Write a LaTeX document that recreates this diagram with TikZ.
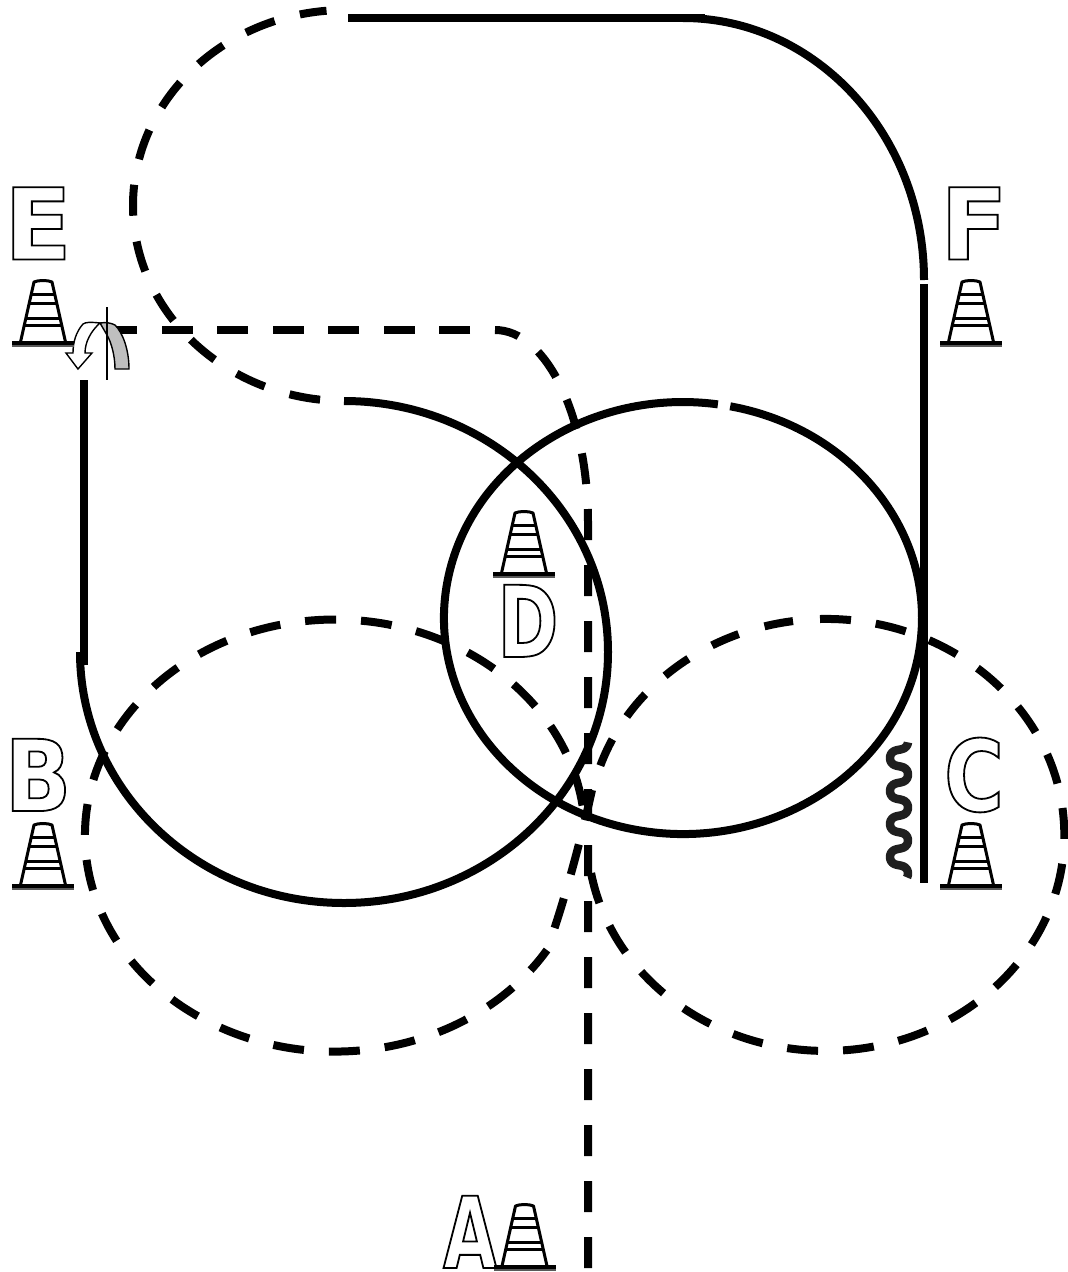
\documentclass[tikz,border=0pt]{standalone}
\usepackage{fontspec}
\newcommand{\outlined}[2]{\special{pdf:code q 1 Tr 1.8 w}{\fontspec[FakeStretch=#1]{DejaVu Sans Bold}\fontsize{99}{99}\selectfont #2}\special{pdf:code Q}}
\tikzset{
  solidline/.style={line width=8pt,black},
  dashline/.style={line width=8pt,black,dash pattern=on 31pt off 25pt},
  letter/.style={inner sep=0pt,outer sep=0pt},
  pics/traffic cone/.style={code={
    \fill[black!65] (-31,-3) rectangle (31,3);
    \fill[black] (-31,-3) rectangle (31,0.5);
    \draw[line width=3pt,line join=round] (-22.5,-2) -- (-9,-62) .. controls (-5,-64) and (5,-64) .. (9,-62) -- (22.5,-2);
    \draw[line width=3pt] (-11.7,-50) -- (11.7,-50);
    \draw[line width=3pt] (-13.8,-41) -- (13.8,-41);
    \draw[line width=3pt] (-17.1,-26) -- (17.1,-26);
    \draw[line width=3pt] (-18.7,-19) -- (18.7,-19);
  }}
}
\begin{document}
\begin{tikzpicture}[x=1pt,y=-1pt]
\useasboundingbox (0,0) rectangle (1068,1272);
% solid curves
\draw[solidline] (80,652) arc[start angle=180,end angle=-90,x radius=264,y radius=251];
\draw[solidline] (84,380) -- (84,665);
\draw[solidline] (730.2,406.3) arc[start angle=-78.6,end angle=278.4,x radius=239,y radius=216];
\draw[solidline] (348,18) -- (705,18);
\draw[solidline] (683,18) arc[start angle=-90,end angle=0,x radius=241,y radius=262];
\draw[solidline] (924,284) -- (924,883);
% dashed curves
\draw[dashline,dash pattern=on 31pt off 26pt,dash phase=32pt] (345,401) arc[start angle=90,end angle=265,x radius=212,y radius=195.5];
\draw[dashline,dash phase=5pt] (547,950) arc[start angle=32,end angle=352,x radius=250,y radius=216];
\draw[dashline] (592,790) .. controls (582,835) and (565,900) .. (547,950);
\draw[dashline] (820,619) arc[start angle=-91.4,end angle=170,x radius=238.5,y radius=216];
\draw[dashline,dash pattern=on 29pt off 27pt] (793,621.1) arc[start angle=262,end angle=197,x radius=238.5,y radius=216];
\draw[dashline] (588,1268) -- (588,522) arc[start angle=0,end angle=-90,x radius=93,y radius=192];
\draw[dashline,dash pattern=on 31pt off 24.5pt] (470,330) -- (108,330);
% squiggle
\draw[line width=8.5pt,color=black!88,line join=round]
  plot[domain=742:876,samples=100,variable=\t,smooth] ({899-9*cos(10.909*(\t-758))},{\t+1.8*sin(21.818*(\t-758))});
% turn icon
\draw[line width=1.4pt,fill=black!25] (100,323) .. controls (106,322) and (111,323) .. (115,325)
  .. controls (123,333) and (129,350) .. (129,369) -- (115,369)
  .. controls (115,355) and (111,342) .. (107,335) -- cycle;
\draw[line width=1.4pt,fill=white] (100,323) .. controls (90,322) and (86,322) .. (83,324)
  .. controls (76,332) and (73,342) .. (73,353) -- (66,353) -- (78,369) -- (92,353) -- (85,353)
  .. controls (85,342) and (91,331) .. (100,323) -- cycle;
\draw[line width=1.4pt] (107,307) -- (107,380);
% cones
\pic at (43,344) {traffic cone};
\pic at (971,344) {traffic cone};
\pic at (43,887) {traffic cone};
\pic at (971,887) {traffic cone};
\pic at (524,575) {traffic cone};
\pic at (524.5,1268) {traffic cone};
% letters
\node[letter,anchor=base] (E) at (38,259.5) {\outlined{1.0}{E}};
\node[letter,anchor=base] (F) at (974,259.5) {\outlined{1.0}{F}};
\node[letter,anchor=base] (D) at (528,657) {\outlined{0.74}{D}};
\node[letter,anchor=base] (B) at (38,811) {\outlined{0.88}{B}};
\node[letter,anchor=base] (C) at (974,811) {\outlined{0.82}{C}};
\node[letter,anchor=base] (A) at (470,1268) {\outlined{0.7}{A}};
\end{tikzpicture}
\end{document}
